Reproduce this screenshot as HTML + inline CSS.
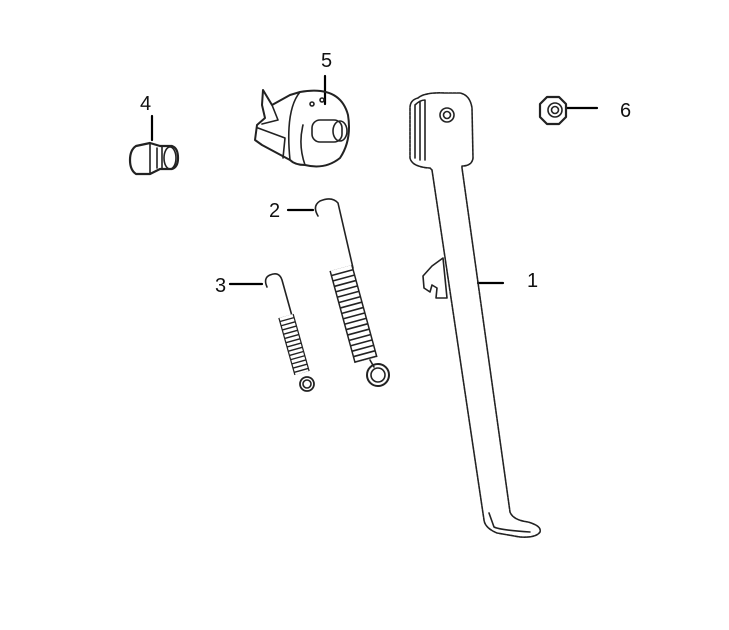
<!DOCTYPE html>
<html><head><meta charset="utf-8"><style>
html,body{margin:0;padding:0;background:#fff;width:729px;height:630px;overflow:hidden}
svg{display:block}
text{font-family:"Liberation Sans",sans-serif;font-size:20px;fill:#111}
</style></head><body>
<svg width="729" height="630" viewBox="0 0 729 630" xmlns="http://www.w3.org/2000/svg">
<g fill="none" stroke="#222" stroke-width="1.6" stroke-linejoin="round" stroke-linecap="round">
<g stroke="#000" stroke-width="2.2">
<line x1="325" y1="76" x2="325" y2="104"/>
<line x1="152" y1="116" x2="152" y2="140"/>
<line x1="566" y1="108" x2="597" y2="108"/>
<line x1="288" y1="210" x2="313" y2="210"/>
<line x1="230" y1="284" x2="262" y2="284"/>
<line x1="478" y1="283" x2="503" y2="283"/>
</g>
<!-- kickstand -->
<path d="M418,98 Q425,92 445,93 L460,93 Q470,95 472,108 L473,158 Q472,166 462,166 L462,168 L510,512 Q513,520 528,522 Q542,526 540,532 Q536,538 520,537 L497,533 Q485,528 484,520 L432,170 L430,168 Q412,167 410,158 L410,108 Q410,100 418,98 Z" stroke-dasharray="3 1"/>
<path d="M415,105 L415,158 M420,102 L420,160 M425,100 L425,160 M415,105 Q420,100 425,100"/>
<circle cx="447" cy="115" r="7"/><circle cx="447" cy="115" r="3.5"/>
<path d="M489,513 L494,527 Q500,530 530,532"/>
<path d="M443,258 L432,266 L423,276 L424,288 L430,292 L432,285 L437,288 L436,298 L447,298 Z"/>
<!-- nut 6 -->
<path d="M540,104 L547,97 L559,97 L566,104 L566,117 L559,124 L547,124 L540,117 Z" stroke-width="2.2"/>
<circle cx="555" cy="110" r="7"/><circle cx="555" cy="110" r="3.5"/>
<!-- part 4 -->
<path d="M136,146 L150,143 L160,146 L172,146 Q178,148 178,158 Q178,167 172,169 L160,169 L150,174 L136,174 Q130,170 130,160 Q130,150 136,146 Z" stroke-width="2.2"/>
<ellipse cx="170" cy="158" rx="6" ry="11"/>
<path d="M157,148 L157,168 M162,147 L162,169 M150,144 L150,173"/>
<!-- part 5 -->
<path d="M263,90 L272,105 L290,95 L300,92 Q340,85 348,115 Q352,140 340,158 Q325,170 305,165 Q295,165 290,160 L262,145 L255,140 L257,125 L265,118 L262,105 Z" stroke-width="2"/>
<path d="M272,105 L278,120 L262,124 M300,92 Q285,110 290,160 M303,125 Q298,145 305,165"/>
<path d="M258,128 L285,138 L283,158"/>
<rect x="312" y="120" width="30" height="22" rx="8"/>
<ellipse cx="340" cy="131" rx="7" ry="10"/>
<circle cx="312" cy="104" r="2"/><circle cx="322" cy="100" r="2"/>
<!-- spring 2 -->
<path d="M318,216 Q312,206 320,201 Q332,196 338,203 L353,268"/>
<line x1="341" y1="268" x2="366" y2="360" stroke="#222" stroke-width="24" stroke-linecap="butt"/>
<line x1="341" y1="268" x2="366" y2="360" stroke="#fff" stroke-width="21" stroke-dasharray="4 1.6" stroke-linecap="butt"/>
<path d="M370,360 L374,367"/>
<circle cx="378" cy="375" r="11" stroke-width="2"/><circle cx="378" cy="375" r="7"/>
<!-- spring 3 -->
<path d="M267,287 Q263,278 270,275 Q279,271 282,280 L292,316"/>
<line x1="286" y1="316" x2="302" y2="373" stroke="#222" stroke-width="16" stroke-linecap="butt"/>
<line x1="286" y1="316" x2="302" y2="373" stroke="#fff" stroke-width="13.5" stroke-dasharray="3 1.4" stroke-linecap="butt"/>
<circle cx="307" cy="384" r="7" stroke-width="1.8"/><circle cx="307" cy="384" r="4"/>
</g>
<text x="321" y="67">5</text>
<text x="140" y="110">4</text>
<text x="620" y="117">6</text>
<text x="269" y="217">2</text>
<text x="215" y="292">3</text>
<text x="527" y="287">1</text>
</svg>
</body></html>
